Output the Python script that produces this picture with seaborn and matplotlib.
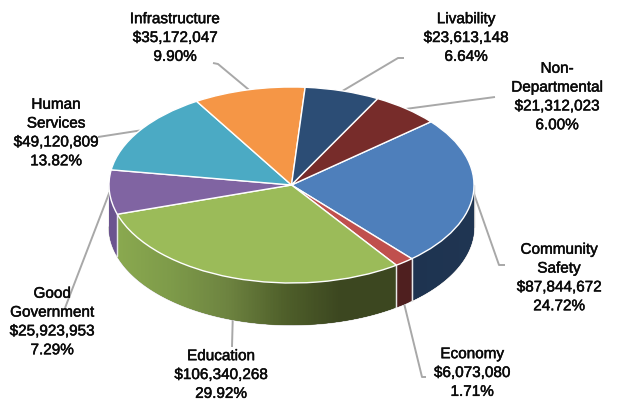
import numpy as np
import matplotlib
matplotlib.use("Agg")
import matplotlib.pyplot as plt
import matplotlib.patheffects as pe
from matplotlib.collections import PolyCollection
import seaborn as sns

# Budget by outcome area, clockwise from the upper right of the pie
names = ["Community\nSafety", "Economy", "Education", "Good\nGovernment",
         "Human\nServices", "Infrastructure", "Livability", "Non-\nDepartmental"]
amounts = [87844672, 6073080, 106340268, 25923953, 49120809, 35172047, 23613148, 21312023]
top_colors = ["#4e7fbb", "#c0504d", "#9bbb59", "#8064a2", "#4baac4", "#f59646", "#2c4d75", "#772c2a"]
side_ramps = [["#1e3350", "#1f3552"], ["#4f1f1f", "#4f1f1f"],
              ["#8aa94f", "#7d9a49", "#6d8340", "#4f5f2a", "#3c4720", "#3c4720"],
              ["#6b548f", "#6b548f"], ["#3a8ba0"], ["#c87a38"], ["#213a58"], ["#5a2120"]]

# Label centres and leader elbows, in pixels from the top left
label_xy = [(559, 278), (472, 373), (221, 375), (52, 322), (56, 133), (175, 38), (466, 38), (557, 97)]
elbows = [[(499, 265), (505, 265)], [(422, 377), (426, 377)], [(232, 347)], [(65, 308)],
          [(98, 137)], [(218, 64), (213, 63)], [(398, 58), (404, 58)], [(495, 97)]]
drop_to_base = [False, True, True, False, False, False, False, False]

W, H = 619, 403
CX, CY, RX, RY, DEPTH = 291.5, 185.0, 182.5, 98.0, 42.0
START = 40.2

sns.set_theme(style="white")
plt.rcParams["font.family"] = ["Liberation Sans", "DejaVu Sans"]

fig = plt.figure(figsize=(W / 100, H / 100), dpi=100, facecolor="white")
ax = fig.add_axes([0, 0, 1, 1])

values = np.array(amounts, dtype=float)
shares = values / values.sum()
edges = START - np.concatenate([[0], np.cumsum(shares)]) * 360

wedges, _ = ax.pie(values, startangle=START, counterclock=False, colors=top_colors,
                   wedgeprops=dict(edgecolor="white", linewidth=1.0))
for w in wedges:
    w.set_zorder(4)

# One unit of data is one pie radius, squashed into an ellipse by the axis limits
ax.set_aspect("auto")
ax.set_xlim(-CX / RX, (W - CX) / RX)
ax.set_ylim(-(H - CY) / RY, CY / RY)
ax.set_axis_off()
depth = DEPTH / RY


def to_data(px, py):
    return (px - CX) / RX, (CY - py) / RY


# Soft outline beneath the disc
ang = np.radians(np.linspace(0, -180, 200))
ax.plot(np.cos(ang), np.sin(ang) - depth, color="#c4c4c4", lw=1.0, zorder=1.5)
ax.plot([1, 1], [0, -depth], color="#c4c4c4", lw=1.0, zorder=1.5)
ax.plot([-1, -1], [0, -depth], color="#c4c4c4", lw=1.0, zorder=1.5)

# Rim of the disc: overlapping vertical strips along the visible front half
for i, ramp in enumerate(side_ramps):
    hi, lo = edges[i], edges[i + 1]
    if hi <= -180 or lo >= 0:
        continue
    a0, a1 = min(hi, 0), max(lo, -180)
    steps = max(int(a0 - a1), 2) * 2
    ang = np.radians(np.linspace(a0, a1, steps + 1))
    x, y = np.cos(ang), np.sin(ang)
    quads = []
    for k in range(steps):
        # Every strip reaches a little into the next so no seams show through
        e = min(k + 4, steps)
        arc = [(x[j], y[j]) for j in range(k, e + 1)]
        quads.append(arc + [(px, py - depth) for px, py in reversed(arc)])
    pos = (x[:-1] - x.min()) / (x.max() - x.min())
    ramp_colors = sns.blend_palette(ramp if len(ramp) > 1 else ramp * 2, 256)
    strip_colors = [ramp_colors[int(p * 255)] for p in pos]
    ax.add_collection(PolyCollection(quads, facecolors=strip_colors, edgecolors="none",
                                     linewidths=0, zorder=2))
    for a in (a0, a1):
        if -180 < a < 0:
            r = np.radians(a)
            ax.plot([np.cos(r)] * 2, [np.sin(r), np.sin(r) - depth], color="#e8e8e8", lw=0.9, zorder=3)

# Leader lines run from each slice's mid-angle out to its label
for i, bends in enumerate(elbows):
    mid = np.radians((edges[i] + edges[i + 1]) / 2)
    sx, sy = np.cos(mid), np.sin(mid) - (depth if drop_to_base[i] else 0)
    pts = [(sx, sy)] + [to_data(*p) for p in bends]
    ax.plot(*zip(*pts), color="#a8a8a8", lw=1.4, zorder=1, solid_capstyle="butt")

for name, amount, share, (px, py) in zip(names, amounts, shares, label_xy):
    tx, ty = to_data(px, py)
    label = ax.text(tx, ty, f"{name}\n${amount:,}\n{share * 100:.2f}%", ha="center", va="center",
                    ma="center", fontsize=11, color="#0a0a0a", linespacing=1.44, zorder=6)
    label.set_path_effects([pe.withStroke(linewidth=0.35, foreground="#0a0a0a")])

fig.savefig("out.png", dpi=100, facecolor="white")
